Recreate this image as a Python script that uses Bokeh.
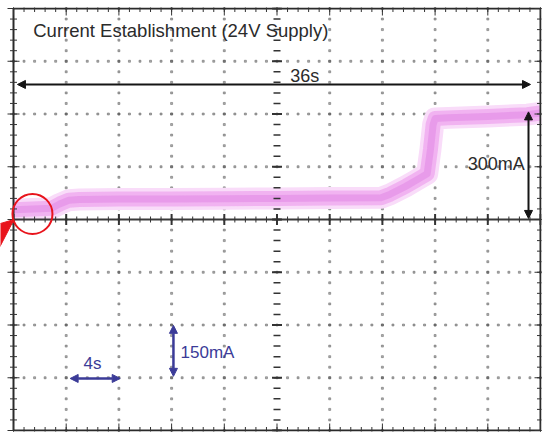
import numpy as np
from bokeh.plotting import figure
from bokeh.models import Label, Arrow, NormalHead, Range1d
from bokeh.embed import file_html
from bokeh.resources import INLINE

# ---- scope settings ----
S_PER_DIV = 4          # s / division
MA_PER_DIV = 150       # mA / division
N_XDIV = 10
N_YDIV = 8

# ---- trace (time in s, current in mA) ----
trace_t = [0, 1.5, 2.9, 3.5, 4.2, 5.0, 8, 12, 16, 20, 24, 27.9, 28.6, 29.8,
           30.5, 31.4, 31.65, 31.85, 32.0, 33, 36, 39, 40]
trace_ma = [28, 30, 32, 44, 55, 57, 58, 58, 59, 60, 61, 62, 72, 95,
            110, 130, 200, 270, 287, 289, 293, 298, 303]

# ---- annotations ----
title_text = "Current Establishment (24V Supply)"
span_label = "36s"
step_label = "300mA"
x_scale_label = "4s"
y_scale_label = "150mA"

x_max = S_PER_DIV * N_XDIV
y_half = MA_PER_DIV * N_YDIV / 2

# screen geometry: 527 px for 10 div, 422 px for 8 div
px_per_x = 527 / x_max
px_per_y = 422 / (2 * y_half)

p = figure(width=544, height=432, output_backend="svg", toolbar_location=None,
           x_axis_type=None, y_axis_type=None,
           x_range=Range1d(-13 / px_per_x, -13 / px_per_x + 541 / px_per_x),
           y_range=Range1d(-y_half - 1 / px_per_y, y_half + 1 / px_per_y),
           min_border_left=0, min_border_right=3, min_border_top=7, min_border_bottom=1)
p.outline_line_color = None
p.background_fill_color = "white"

x_major = np.arange(0, x_max + 1e-9, S_PER_DIV)
y_major = np.arange(-y_half, y_half + 1e-9, MA_PER_DIV)
x_minor = np.arange(0, x_max + 1e-9, S_PER_DIV / 5)
y_minor = np.arange(-y_half, y_half + 1e-9, MA_PER_DIV / 5)
x_mid = x_max / 2

# dotted grid
gx, gy = [], []
for xv in x_major[1:-1]:
    if abs(xv - x_mid) < 1e-9:
        continue
    gx += [xv] * len(y_minor)
    gy += list(y_minor)
for yv in y_major[1:-1]:
    if abs(yv) < 1e-9:
        continue
    gx += list(x_minor)
    gy += [yv] * len(x_minor)
p.scatter(gx, gy, marker="square", size=2, color="#555555", alpha=0.45)

# trace band
p.line(trace_t, trace_ma, line_width=22, color="#f9dcf9", line_join="round")
p.line(trace_t, trace_ma, line_width=15, color="#efaef0", alpha=0.9, line_join="round")
p.line(trace_t, trace_ma, line_width=7, color="#e38ae6", alpha=0.6, line_join="round")

# frame
p.quad(left=[0], right=[x_max], bottom=[-y_half], top=[y_half],
       fill_color=None, line_color="#2a2a2a", line_width=2)

# center axes
p.segment(x0=[0], y0=[0], x1=[x_max], y1=[0], line_color="#3a3a3a", line_width=2)
p.scatter(x_minor, [0] * len(x_minor), marker="dash", angle=np.pi / 2, size=6, color="#333333")
p.scatter(x_major, [0] * len(x_major), marker="dash", angle=np.pi / 2, size=11, color="#333333", line_width=2)
p.scatter([x_mid] * len(y_minor), y_minor, marker="dash", size=7, color="#333333", line_width=1.5)
p.scatter([x_mid] * len(y_major), y_major, marker="dash", size=10, color="#333333", line_width=2)

# edge ticks
for xe in (0, x_max):
    p.scatter([xe] * len(y_minor), y_minor, marker="dash", size=7, color="#333333")
    p.scatter([xe] * len(y_major), y_major, marker="dash", size=12, color="#333333")
for ye in (-y_half, y_half):
    p.scatter(x_minor, [ye] * len(x_minor), marker="dash", angle=np.pi / 2, size=7, color="#333333")
    p.scatter(x_major, [ye] * len(x_major), marker="dash", angle=np.pi / 2, size=14, color="#333333")

# title
p.add_layout(Label(x=1.5, y=537, text=title_text, text_font="Liberation Sans",
                   text_font_size="18.5px", text_color="#2b2b2b", text_baseline="alphabetic"))

# 36s arrow
blk = "#151515"
p.add_layout(Arrow(x_start=0.3, y_start=384, x_end=39.24, y_end=384, line_color=blk, line_width=2,
                   start=NormalHead(size=8, fill_color=blk, line_color=blk),
                   end=NormalHead(size=8, fill_color=blk, line_color=blk)))
p.add_layout(Label(x=21.0, y=409, text=span_label, text_font="Liberation Sans",
                   text_font_size="18px", text_color="#2b2b2b", text_baseline="alphabetic"))

# 300mA arrow
p.add_layout(Arrow(x_start=39.09, y_start=3, x_end=39.09, y_end=306, line_color=blk, line_width=2,
                   start=NormalHead(size=8, fill_color=blk, line_color=blk),
                   end=NormalHead(size=8, fill_color=blk, line_color=blk)))
p.add_layout(Label(x=38.8, y=159, text=step_label, text_font="Liberation Sans",
                   text_font_size="18px", text_color="#2b2b2b", text_baseline="middle",
                   text_align="right"))

# scale arrows
blu = "#3b3b98"
p.add_layout(Arrow(x_start=4.3, y_start=-452, x_end=8.1, y_end=-452, line_color=blu, line_width=2.5,
                   start=NormalHead(size=8, fill_color=blu, line_color=blu),
                   end=NormalHead(size=8, fill_color=blu, line_color=blu)))
p.add_layout(Label(x=6.0, y=-409, text=x_scale_label, text_font="Liberation Sans",
                   text_font_size="17px", text_color=blu, text_baseline="middle", text_align="center"))
p.add_layout(Arrow(x_start=12.14, y_start=-446, x_end=12.14, y_end=-301, line_color=blu, line_width=2.5,
                   start=NormalHead(size=8, fill_color=blu, line_color=blu),
                   end=NormalHead(size=8, fill_color=blu, line_color=blu)))
p.add_layout(Label(x=12.68, y=-378, text=y_scale_label, text_font="Liberation Sans",
                   text_font_size="17px", text_color=blu, text_baseline="middle"))

# red highlight
red = "#e8141c"
p.scatter([1.44], [15.6], marker="circle", size=40, fill_color=None, line_color=red, line_width=2)
p.patch(x=[0.038, -1.063, -1.063], y=[0, -12.2, -79.6], fill_color=red, line_color=red, line_width=1)

open("out.html", "w").write(file_html(p, INLINE))
